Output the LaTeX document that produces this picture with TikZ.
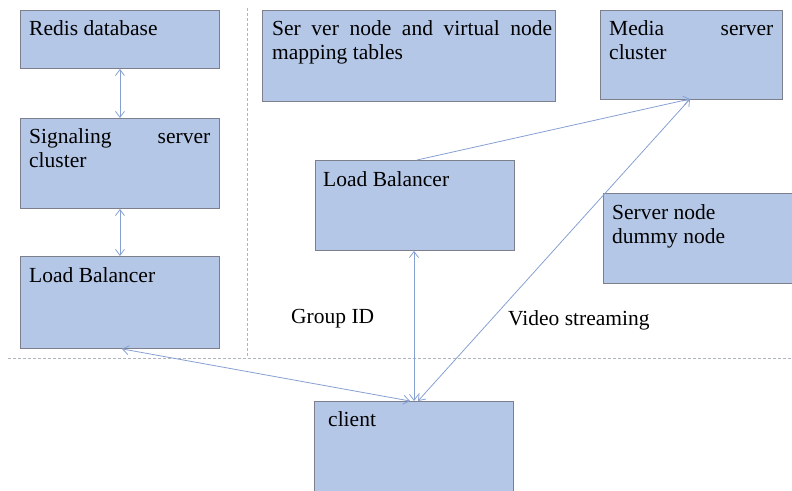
\documentclass[tikz,border=0pt]{standalone}
\usepackage{fontspec}
\setmainfont{Liberation Serif}
\usetikzlibrary{arrows.meta,calc}
\definecolor{boxfill}{RGB}{180,199,231}
\definecolor{boxline}{RGB}{125,128,140}
\definecolor{arrowc}{RGB}{135,160,210}
\definecolor{dashc}{RGB}{175,180,190}
\tikzset{
  x=1pt, y=-1pt,
  box/.style={draw=boxline, line width=0.9pt, fill=boxfill, rectangle, anchor=north west, inner sep=0pt},
  lbl/.style={anchor=base west, inner sep=0pt, font=\fontsize{21.5}{24}\selectfont},
  conn/.style={draw=arrowc, line width=0.8pt},
  tip/.tip={Straight Barb[length=6pt,width=9pt]},
  sep/.style={draw=dashc, line width=0.8pt, dash pattern=on 3pt off 2pt},
}
\newcommand{\twolines}[2]{\parbox[t]{300pt}{#1\\#2}}
\begin{document}
\begin{tikzpicture}
\useasboundingbox (0,0) rectangle (792,490);
% separators
\coordinate (vt) at (247,8);
\coordinate (vb) at (247,358);
\coordinate (hl) at (8,358);
\coordinate (hr) at (792,358);
\draw[sep] (vt) -- (vb);
\draw[sep] (hl) -- (hr);
% boxes
\node[box, minimum width=199pt, minimum height=58pt] (redis) at (20,10) {};
\node[box, minimum width=199pt, minimum height=90pt] (sig) at (20,118) {};
\node[box, minimum width=199pt, minimum height=92pt] (lbl1) at (20,256) {};
\node[box, minimum width=293pt, minimum height=91pt] (map) at (262,10) {};
\node[box, minimum width=182pt, minimum height=89pt] (media) at (600,10) {};
\node[box, minimum width=199pt, minimum height=90pt] (lbm) at (315,160) {};
\node[box, minimum width=192pt, minimum height=90pt] (dummy) at (603,193) {};
\node[box, minimum width=199pt, minimum height=92pt] (client) at (314,401) {};
% labels
\node[lbl] (tredis) at (29,35) {Redis database};
\node[lbl] (tsig) at (29,143) {\twolines{\makebox[181pt][s]{Signaling server}}{cluster}};
\node[lbl] (tlb1) at (29,282) {Load Balancer};
\node[lbl] (tmap) at (272,35) {\twolines{\makebox[280pt][s]{Ser ver node and virtual node}}{mapping tables}};
\node[lbl] (tmedia) at (609,35) {\twolines{\makebox[164pt][s]{Media server}}{cluster}};
\node[lbl] (tlbm) at (323,186) {Load Balancer};
\node[lbl] (tdummy) at (612,219) {\twolines{Server node}{dummy node}};
\node[lbl] (tclient) at (328,426) {client};
\node[lbl] (tgid) at (291,323) {Group ID};
\node[lbl] (tvid) at (508,325) {Video streaming};
% connectors
\coordinate (cl) at (410,401);
\coordinate (cm) at (414,401);
\coordinate (cr) at (418,401);
\coordinate (mb) at (690,99);
\draw[conn, tip-tip] (redis.south) -- (sig.north);
\draw[conn, tip-tip] (sig.south) -- (lbl1.north);
\draw[conn, tip-tip] (lbl1.south -| 122,0) -- (cl);
\draw[conn, tip-tip] (lbm.south -| 414,0) -- (cm);
\draw[conn, -tip] (lbm.north -| 417,0) -- (mb);
\draw[conn, tip-tip] (cr) -- (mb);
\end{tikzpicture}
\end{document}
